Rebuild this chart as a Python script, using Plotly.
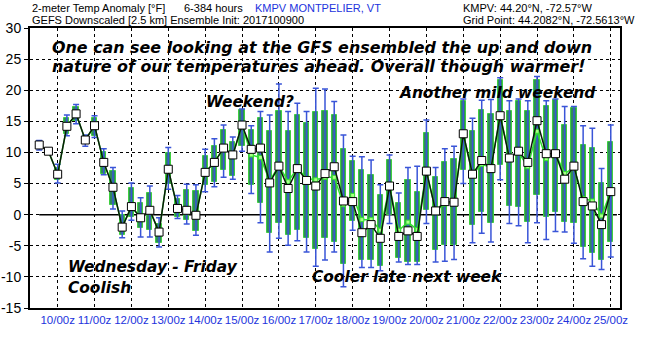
import plotly.graph_objects as go

# ---- data (forecast hour, values in deg F) ----
hours = list(range(12, 385, 6))
mean_vals = [11.2, 10.2, 6.5, 14.2, 16.2, 12.0, 14.3, 8.4, 4.4, -2.0,
             1.3, -0.5, 0.7, -2.8, 7.3, 1.0, 0.7, -0.1, 6.8, 8.4,
             10.7, 9.6, 14.4, 10.5, 10.7, 5.1, 7.8, 4.2, 7.4, 5.5,
             4.6, 6.6, 7.7, 2.2, 2.1, -2.9, -1.6, -3.8, 4.6, -3.5,
             -2.6, -3.5, 7.0, 0.6, 2.1, 2.0, 13.0, 6.5, 8.7, 7.4,
             15.9, 9.1, 10.2, 8.4, 15.1, 9.8, 9.8, 5.7, 7.8, 2.1,
             1.4, -1.6, 3.7]
median_vals = [11.2, 10.2, 6.5, 14.2, 16.2, 12.0, 14.3, 8.4, 4.4, -2.0,
               1.3, -0.5, 0.7, -2.8, 7.3, 1.0, 0.7, -0.1, 6.8, 8.4,
               10.7, 9.6, 14.4, 9.6, 9.2, 5.4, 7.9, 5.3, 7.5, 5.8,
               5.6, 6.0, 6.0, 1.6, 3.1, -0.8, -0.8, -2.5, 4.6, -2.5,
               -1.2, -2.4, 7.0, 0.6, 1.7, 2.0, 13.0, 6.5, 8.1, 7.6,
               15.9, 9.4, 10.0, 7.7, 13.4, 9.0, 9.8, 6.6, 7.6, 2.6,
               2.2, -0.2, 3.7]
box_low = [10.7, 10.0, 5.5, 13.0, 15.0, 11.3, 12.6, 6.6, 1.5, -3.3,
           -0.3, -2.2, -2.5, -4.5, 5.0, -0.3, -0.9, -2.7, 4.8, 5.3,
           7.2, 6.2, 11.0, 4.7, 1.8, -3.0, -1.4, -3.2, -2.5, -3.8,
           -5.5, -3.8, -4.4, -7.9, -1.0, -7.3, -7.3, -8.3, -0.1, -7.0,
           -7.6, -7.6, 0.7, -5.6, -4.9, -4.9, 7.2, -1.7, 0.5, -1.4,
           8.0, 1.4, 1.2, -1.2, 3.1, -0.3, 0.5, -1.2, -1.4, -5.2,
           -6.2, -7.3, -4.4]
box_high = [11.8, 10.4, 7.5, 15.5, 17.3, 12.6, 15.5, 10.0, 7.0, 0.0,
            4.3, 1.8, 3.5, -1.5, 9.9, 2.5, 4.0, 3.8, 9.4, 11.0,
            13.6, 11.6, 16.8, 13.6, 15.5, 13.4, 16.7, 13.4, 16.0, 14.7,
            16.5, 16.6, 16.0, 10.6, 8.7, 7.2, 6.4, 3.2, 8.8, 1.9,
            5.6, 3.7, 13.1, 6.0, 8.5, 8.9, 18.3, 13.5, 16.9, 16.2,
            21.7, 16.6, 18.2, 16.6, 21.7, 17.5, 18.4, 14.4, 17.1, 11.2,
            10.7, 5.1, 11.7]
whisk_low = [10.4, 9.9, 5.1, 12.7, 14.6, 11.0, 12.4, 6.4, 0.9, -3.7,
             -0.9, -3.6, -3.6, -5.2, 4.1, -0.6, -1.5, -3.3, 3.7, 4.5,
             6.0, 5.7, 10.2, 3.4, -1.3, -6.0, -3.8, -4.9, -4.2, -6.0,
             -8.3, -7.3, -6.0, -11.6, -2.5, -8.5, -8.5, -9.0, -1.4, -7.6,
             -8.0, -8.0, -1.4, -7.6, -7.5, -7.2, 5.0, -4.5, -3.0, -4.4,
             5.6, -1.4, -1.8, -4.5, -1.3, -4.0, -2.7, -2.8, -4.6, -7.1,
             -8.3, -8.8, -6.8]
whisk_high = [11.9, 10.5, 8.1, 16.0, 17.7, 12.8, 15.9, 10.6, 7.6, 0.6,
              5.1, 2.7, 4.6, -0.5, 10.8, 3.1, 4.9, 4.8, 10.5, 12.2,
              14.4, 12.5, 17.0, 14.3, 16.6, 16.0, 21.0, 16.6, 17.9, 16.6,
              20.3, 20.2, 18.2, 12.8, 9.4, 9.3, 8.8, 4.8, 9.6, 3.5,
              7.6, 7.8, 15.2, 7.6, 10.6, 11.0, 18.6, 15.5, 18.4, 18.5,
              22.0, 18.3, 18.6, 18.3, 22.2, 18.3, 18.6, 17.4, 17.4, 14.3,
              13.9, 7.4, 14.4]

tick_hours = list(range(24, 385, 24))
tick_labels = ["10/00z", "11/00z", "12/00z", "13/00z", "14/00z", "15/00z",
               "16/00z", "17/00z", "18/00z", "19/00z", "20/00z", "21/00z",
               "22/00z", "23/00z", "24/00z", "25/00z"]
y_ticks = [30, 25, 20, 15, 10, 5, 0, -5, -10, -15]
y_tick_labels = ["30", "25", "20", "15", "10", "5", "0", "-5", "-10", "-15"]

L, R, T, B = 30, 30, 28, 42
W, H = 650, 350
PW = W - L - R
PH = H - T - B
X0, X1 = 6, 390


def px_x(px):
    return (px - L) / PW


def px_y(py):
    return 1 - (py - T) / PH


def px_hour(px):
    return X0 + (px - L) / PW * (X1 - X0)


fig = go.Figure()

# whiskers (min-max)
mid = [(a + b) / 2 for a, b in zip(whisk_low, whisk_high)]
fig.add_trace(go.Scatter(
    x=hours, y=mid, mode="markers",
    marker=dict(size=1, color="rgba(0,0,0,0)"),
    error_y=dict(type="data", symmetric=False,
                 array=[h - m for h, m in zip(whisk_high, mid)],
                 arrayminus=[m - l for m, l in zip(mid, whisk_low)],
                 color="#3a55d8", thickness=1.5, width=3),
    hoverinfo="skip", showlegend=False))

# interquartile boxes
fig.add_trace(go.Bar(
    x=hours, base=box_low,
    y=[h - l for h, l in zip(box_high, box_low)],
    width=3.4,
    marker=dict(color="#2f8a5c", line=dict(color="#3ecf3e", width=1)),
    showlegend=False, hoverinfo="skip"))

# median line
fig.add_trace(go.Scatter(
    x=hours, y=median_vals, mode="lines+markers",
    line=dict(color="#33dd33", width=1.5),
    marker=dict(symbol="square", size=4, color="#aaff88",
                line=dict(color="#33dd33", width=1)),
    showlegend=False, hoverinfo="skip"))

# ensemble mean
fig.add_trace(go.Scatter(
    x=hours, y=mean_vals, mode="lines+markers",
    line=dict(color="#0a1a0a", width=1.5),
    marker=dict(symbol="square", size=8, color="white",
                line=dict(color="black", width=1)),
    showlegend=False, hoverinfo="skip"))

# zero line
fig.add_shape(type="line", x0=hours[0], x1=388, y0=0, y1=0,
              line=dict(color="black", width=1.5), layer="below")

ann = [
    (50, 48, "One can see looking at the GFS ensembled the up and down", 15.9),
    (50, 67, "nature of our temperatures ahead. Overall though warmer!", 15.9),
    (204, 102, "Weekend?", 15.4),
    (397, 93, "Another mild weekend", 15.4),
    (66, 267, "Wednesday - Friday", 15.4),
    (66, 288, "Coolish", 15.4),
    (310, 277, "Cooler late next week", 15.4),
]
for px, py, t, sz in ann:
    fig.add_annotation(x=px_x(px), y=px_y(py), xref="paper", yref="paper",
                       text="<b><i>" + t + "</i></b>", showarrow=False,
                       xanchor="left", yanchor="middle", align="left",
                       font=dict(family="DejaVu Sans", size=sz, color="black"))

header = [
    (31, 8, "2-meter Temp Anomaly [°F]", "black"),
    (183, 8, "6-384 hours", "black"),
    (254, 8, "KMPV MONTPELIER, VT", "#2233dd"),
    (31, 20, "GEFS Downscaled [2.5 km] Ensemble Init: 2017100900", "black"),
    (462, 8, "KMPV: 44.20°N, -72.57°W", "black"),
    (462, 20, "Grid Point: 44.2082°N, -72.5613°W", "black"),
]
for px, py, t, c in header:
    fig.add_annotation(x=px_hour(px), y=px_y(py), xref="x", yref="paper",
                       text=t, showarrow=False, xanchor="left",
                       yanchor="middle", align="left", borderpad=0,
                       font=dict(family="Liberation Sans", size=11, color=c))

fig.update_layout(
    width=W, height=H,
    margin=dict(l=L, r=R, t=T, b=B),
    paper_bgcolor="white", plot_bgcolor="white",
    bargap=0, barmode="overlay",
    xaxis=dict(range=[X0, X1], tickmode="array", tickvals=tick_hours,
               ticktext=tick_labels, showgrid=True, gridcolor="black",
               griddash="dot", gridwidth=1, zeroline=False,
               showline=True, linecolor="black", linewidth=2, mirror=True,
               ticks="", tickangle=0, automargin=False,
               tickfont=dict(family="Liberation Sans", size=11.5, color="#2233dd")),
    yaxis=dict(range=[-15, 30], tickmode="array", tickvals=y_ticks,
               ticktext=y_tick_labels,
               showgrid=True, gridcolor="black", griddash="dot", gridwidth=1,
               zeroline=False, showline=True, linecolor="black", linewidth=2,
               mirror=True, ticks="outside", ticklen=4, tickcolor="black",
               automargin=False,
               tickfont=dict(family="Liberation Sans", size=14, color="black")),
)

fig.write_html("out.html")
